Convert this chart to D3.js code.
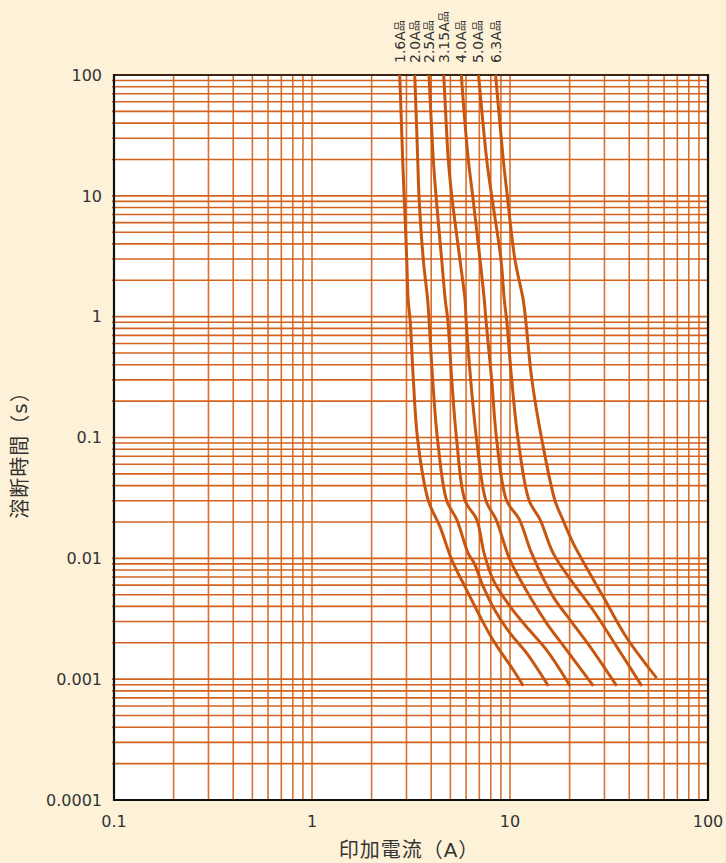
<!DOCTYPE html>
<html>
<head>
<meta charset="utf-8">
<script src="https://d3js.org/d3.v7.min.js"></script>
<style>
  html, body { margin: 0; padding: 0; background: #fdf2d7; }
  text { font-family: "DejaVu Sans", "Noto Sans CJK JP", sans-serif; }
</style>
</head>
<body>
<div id="chart"></div>
<script>
// current (A), time (s)
var fuseNames = ["1.6A", "2.0A", "2.5A", "3.15A", "4.0A", "5.0A", "6.3A"];

var fuse16 = [[2.77,100],[2.78,91],[2.87,19.8],[2.92,10],[3.01,2.94],[3.06,1.37],[3.13,0.94],[3.25,0.30],[3.42,0.095],[3.87,0.030],[4.43,0.0183],[5.08,0.0097],[5.93,0.0058],[7.06,0.0033],[8.08,0.0022],[9.08,0.00164],[10.39,0.00119],[11.67,0.00088]];
var fuse20 = [[3.30,100],[3.31,91],[3.42,19.8],[3.47,10],[3.65,2.94],[3.84,1.37],[3.90,0.94],[4.07,0.30],[4.31,0.095],[4.79,0.030],[5.38,0.021],[6.15,0.011],[6.6,0.0091],[7.33,0.0058],[8.40,0.0037],[10.0,0.0024],[12.14,0.00164],[15.61,0.00088]];
var fuse25 = [[3.90,100],[3.91,91],[4.10,19.8],[4.23,10],[4.52,2.94],[4.71,1.37],[4.85,0.94],[5.08,0.30],[5.38,0.095],[5.93,0.030],[6.79,0.021],[7.4,0.011],[8.23,0.0066],[10.0,0.0040],[12.14,0.0027],[15.32,0.00174],[20.1,0.00088]];
var fuse315 = [[4.62,100],[4.64,91],[4.88,19.8],[5.08,10],[5.59,2.94],[5.93,1.37],[6.00,0.94],[6.33,0.30],[6.79,0.095],[7.56,0.030],[8.50,0.021],[10.0,0.0097],[12.62,0.0048],[15.32,0.0029],[19.33,0.00174],[26.35,0.00088]];
var fuse40 = [[5.68,100],[5.70,91],[6.16,19.8],[6.48,10],[7.06,2.94],[7.42,1.37],[7.56,0.94],[8.08,0.30],[8.57,0.095],[9.62,0.030],[11.14,0.021],[12.87,0.011],[16.54,0.0048],[20.1,0.0031],[25.35,0.00186],[34.58,0.00088]];
var fuse50 = [[6.93,100],[6.97,91],[7.63,19.8],[8.08,10],[9.01,2.94],[9.36,1.37],[9.62,0.94],[10.2,0.30],[11.0,0.095],[12.5,0.030],[14.17,0.021],[16.54,0.011],[20.87,0.0062],[26.35,0.0037],[34.58,0.00186],[46.26,0.00088]];
var fuse63 = [[8.45,100],[8.50,91],[9.25,19.8],[9.69,10],[10.6,2.94],[11.67,1.37],[12.0,0.94],[12.9,0.30],[14.5,0.095],[16.88,0.030],[18.46,0.021],[20.87,0.0133],[29.59,0.0048],[38.86,0.0022],[55.07,0.00102]];

var xTickLabels = ["0.1", "1", "10", "100"];
var yTickLabels = ["100", "10", "1", "0.1", "0.01", "0.001", "0.0001"];

var curves = [fuse16, fuse20, fuse25, fuse315, fuse40, fuse50, fuse63];

var margin = { top: 75, right: 18, bottom: 63, left: 114 },
	width = 726 - margin.left - margin.right,
	height = 863 - margin.top - margin.bottom;

var svg = d3.select("#chart")
	.append("svg")
		.attr("width", 726)
		.attr("height", 863)
	.append("g")
		.attr("transform", "translate(" + margin.left + "," + margin.top + ")");

var x = d3.scaleLog().domain([0.1, 100]).range([0, width]);
var y = d3.scaleLog().domain([0.0001, 100]).range([height, 0]);

svg.append("rect")
	.attr("width", width)
	.attr("height", height)
	.style("fill", "white");

// grid 1..9 in every decade
var xGrid = [], yGrid = [];
for (var e = -1; e < 2; e++) {
	for (var k = 1; k < 10; k++) xGrid.push(k * Math.pow(10, e));
}
for (var e2 = -4; e2 < 2; e2++) {
	for (var k2 = 1; k2 < 10; k2++) yGrid.push(k2 * Math.pow(10, e2));
}

svg.selectAll("vGrid")
	.data(xGrid.slice(1))
	.enter()
	.append("line")
		.attr("x1", function(d) { return x(d) })
		.attr("x2", function(d) { return x(d) })
		.attr("y1", 0)
		.attr("y2", height)
		.attr("stroke", "#d9702e")
		.attr("stroke-width", 1.6)

svg.selectAll("hGrid")
	.data(yGrid.slice(1))
	.enter()
	.append("line")
		.attr("x1", -2)
		.attr("x2", width)
		.attr("y1", function(d) { return y(d) })
		.attr("y2", function(d) { return y(d) })
		.attr("stroke", "#d4621f")
		.attr("stroke-width", 1.6)

// frame
svg.append("line").attr("x1", 0).attr("x2", width).attr("y1", 0).attr("y2", 0)
	.attr("stroke", "#3b2613").attr("stroke-width", 2.2)
svg.append("line").attr("x1", 0).attr("x2", width).attr("y1", height).attr("y2", height)
	.attr("stroke", "#111").attr("stroke-width", 2.2)
svg.append("line").attr("x1", 0).attr("x2", 0).attr("y1", -1).attr("y2", height + 1)
	.attr("stroke", "#111").attr("stroke-width", 2.2)
svg.append("line").attr("x1", width).attr("x2", width).attr("y1", -1).attr("y2", height + 1)
	.attr("stroke", "#111").attr("stroke-width", 2.2)

// fuse curves
var line = d3.line()
	.x(function(d) { return x(d[0]) })
	.y(function(d) { return y(d[1]) })
	.curve(d3.curveCatmullRom.alpha(0.5));

svg.selectAll("fuseCurves")
	.data(curves)
	.enter()
	.append("path")
		.attr("d", line)
		.attr("fill", "none")
		.attr("stroke", "#c9560e")
		.attr("stroke-width", 3)
		.attr("stroke-linejoin", "round")
		.attr("stroke-linecap", "butt")

// fuse labels above the frame
var labels = svg.selectAll("fuseLabels")
	.data(curves)
	.enter()
	.append("text")
		.attr("transform", function(d) { return "translate(" + (x(d[0][0]) + 5) + "," + (-12) + ") rotate(-90)" })
		.style("font-size", "14px")
		.style("fill", "#333")
		.text(function(d, i) { return fuseNames[i] });
labels.append("tspan")
	.style("font-size", "11px")
	.attr("dy", -1)
	.text("品");

// tick labels
svg.selectAll("yLabels")
	.data(yTickLabels)
	.enter()
	.append("text")
		.attr("x", -12)
		.attr("y", function(d) { return y(+d) })
		.attr("dy", "0.36em")
		.attr("text-anchor", "end")
		.style("font-size", "16px")
		.style("fill", "#333")
		.text(function(d) { return d });

svg.selectAll("xLabels")
	.data(xTickLabels)
	.enter()
	.append("text")
		.attr("x", function(d) { return x(+d) })
		.attr("y", height + 27)
		.attr("text-anchor", "middle")
		.style("font-size", "16px")
		.style("fill", "#333")
		.text(function(d) { return d });

// axis titles
svg.append("text")
	.attr("x", 295)
	.attr("y", height + 57)
	.attr("text-anchor", "middle")
	.style("font-size", "20px")
	.style("letter-spacing", "1px")
	.style("fill", "#333")
	.text("印加電流（A）");

svg.append("text")
	.attr("transform", "translate(" + (-87) + "," + 375 + ") rotate(-90)")
	.attr("text-anchor", "middle")
	.style("font-size", "20px")
	.style("letter-spacing", "1px")
	.style("fill", "#333")
	.text("溶断時間（s）");
</script>
</body>
</html>
